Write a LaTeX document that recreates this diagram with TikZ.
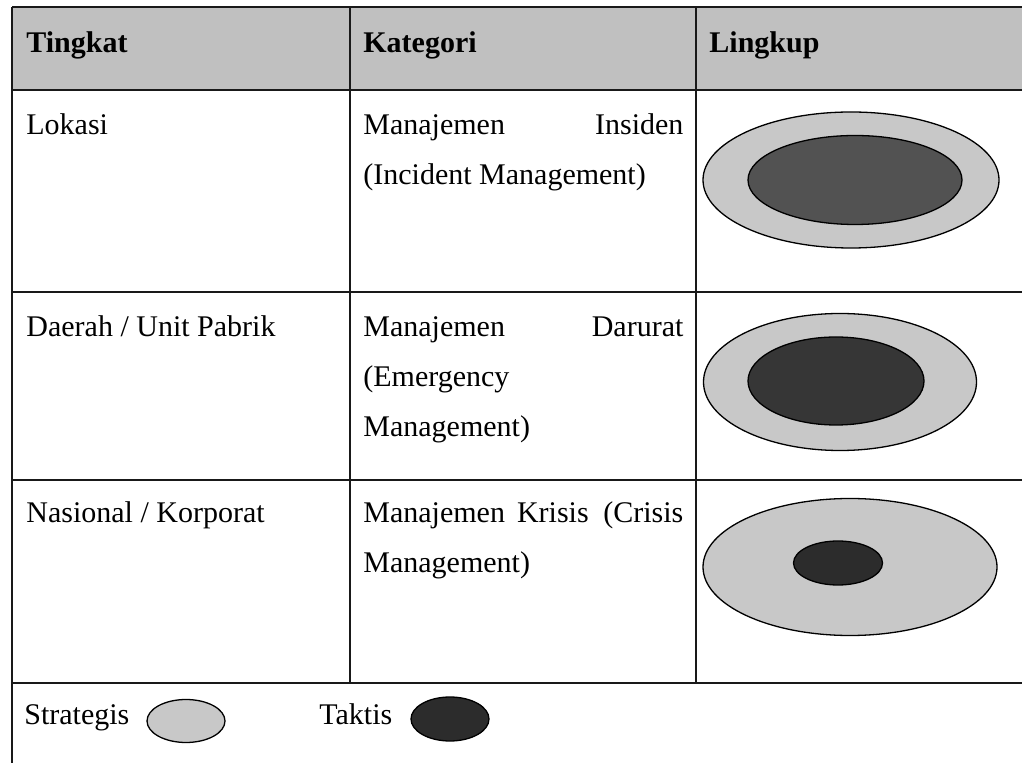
\documentclass[tikz,border=0pt]{standalone}
\usepackage{fontspec}
\setmainfont{Liberation Serif}
\usetikzlibrary{shapes.geometric}
\definecolor{headgray}{HTML}{C0C0C0}
\definecolor{lightfill}{HTML}{C8C8C8}
\definecolor{midfill}{HTML}{525252}
\definecolor{darkfill}{HTML}{2C2C2C}
\definecolor{darkfillb}{HTML}{363636}
\tikzset{
  cell/.style={anchor=base west, inner sep=0pt, font=\fontsize{15}{25}\selectfont},
  headcell/.style={cell, font=\fontsize{15}{25}\selectfont\bfseries},
  rule/.style={line width=1pt, draw=black!90},
  oval/.style={ellipse, draw=black, line width=0.65pt, inner sep=0pt},
  strat/.style={oval, fill=lightfill},
  takt/.style={oval, fill=darkfill}
}
\begin{document}
\begin{tikzpicture}[x=0.5pt,y=-0.5pt]
\useasboundingbox (0,0) rectangle (1022,763);
\fill[white] (0,0) rectangle (1022,763);

% header band
\fill[headgray] (12,7) rectangle (1022,90);

% grid corners
\coordinate (tl) at (12,7);
\coordinate (tr) at (1022,7);
\coordinate (bl) at (12,763);
\coordinate (h1l) at (12,90);   \coordinate (h1r) at (1022,90);
\coordinate (h2l) at (12,292);  \coordinate (h2r) at (1022,292);
\coordinate (h3l) at (12,480);  \coordinate (h3r) at (1022,480);
\coordinate (h4l) at (12,683);  \coordinate (h4r) at (1022,683);
\coordinate (v1t) at (350,7);   \coordinate (v1b) at (350,683);
\coordinate (v2t) at (696,7);   \coordinate (v2b) at (696,683);

\draw[rule] (tl) -- (tr);
\draw[rule] (h1l) -- (h1r);
\draw[rule] (h2l) -- (h2r);
\draw[rule] (h3l) -- (h3r);
\draw[rule] (h4l) -- (h4r);
\draw[rule] (tl) -- (bl);
\draw[rule] (v1t) -- (v1b);
\draw[rule] (v2t) -- (v2b);

% header
\node[headcell] (hTingkat) at (26,53) {Tingkat};
\node[headcell] (hKategori) at (363,53) {Kategori};
\node[headcell] (hLingkup) at (709,53) {Lingkup};

% row 1
\node[cell] (t1) at (26,135) {Lokasi};
\node[cell] (k1a) at (363,135) {\hbox to 160pt{Manajemen\hfill Insiden}};
\node[cell] (k1b) at (363,185) {(Incident Management)};
\node[strat] (o1) at (851,180) [minimum width=148pt, minimum height=68pt] {};
\node[oval, fill=midfill] (i1) at (855,180) [minimum width=107pt, minimum height=44.5pt] {};

% row 2
\node[cell] (t2) at (26,337) {Daerah / Unit Pabrik};
\node[cell] (k2a) at (363,337) {\hbox to 160pt{Manajemen\hfill Darurat}};
\node[cell] (k2b) at (363,387) {(Emergency};
\node[cell] (k2c) at (363,437) {Management)};
\node[strat] (o2) at (840,382) [minimum width=136.5pt, minimum height=68.5pt] {};
\node[oval, fill=darkfillb] (i2) at (836,381) [minimum width=88pt, minimum height=44pt] {};

% row 3
\node[cell] (t3) at (26,523) {Nasional / Korporat};
\node[cell] (k3a) at (363,523) {\hbox to 160pt{Manajemen\hspace{6pt}Krisis\hfill(Crisis}};
\node[cell] (k3b) at (363,573) {Management)};
\node[strat] (o3) at (850,567) [minimum width=147pt, minimum height=68.5pt] {};
\node[takt] (i3) at (838,563) [minimum width=44.5pt, minimum height=22pt] {};

% legend
\node[cell] (lStrat) at (24,725) {Strategis};
\node[strat] (eStrat) at (186,721) [minimum width=39pt, minimum height=21.5pt] {};
\node[cell] (lTakt) at (319,725) {Taktis};
\node[takt] (eTakt) at (450,719) [minimum width=39pt, minimum height=22pt] {};
\end{tikzpicture}
\end{document}
